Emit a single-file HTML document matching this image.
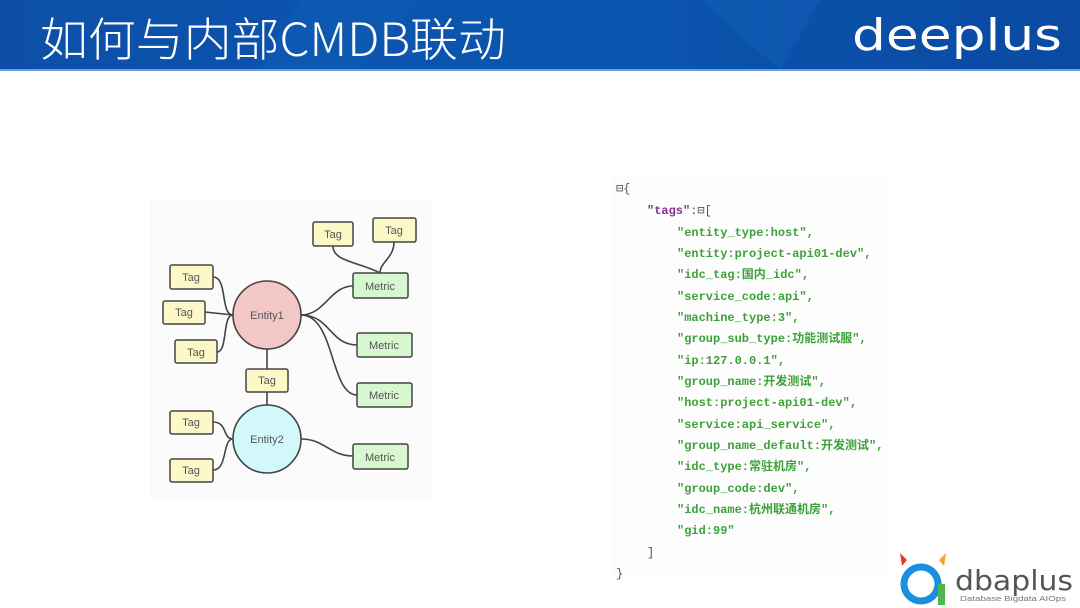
<!DOCTYPE html>
<html><head><meta charset="utf-8"><style>
html,body{margin:0;padding:0;background:#fff}
svg{display:block}
</style></head><body>
<svg width="1080" height="608" viewBox="0 0 1080 608" xmlns="http://www.w3.org/2000/svg">
<defs>
<linearGradient id="hb" x1="0" y1="0" x2="1" y2="0">
<stop offset="0" stop-color="#0d4fa8"/><stop offset="0.5" stop-color="#0b56b0"/><stop offset="1" stop-color="#0a4aa2"/>
</linearGradient>
</defs>
<rect x="0" y="0" width="1080" height="70" fill="url(#hb)"/>
<polygon points="300,0 420,0 360,70 260,70" fill="#1060b8" opacity="0.35"/>
<polygon points="700,0 820,0 780,70" fill="#1a66bd" opacity="0.3"/>
<rect x="0" y="69" width="1080" height="2" fill="#6f9fd8"/>
<text x="40" y="56" font-family="Noto Sans CJK SC, sans-serif" font-size="46" font-weight="300" fill="#fff" textLength="466" lengthAdjust="spacingAndGlyphs">如何与内部CMDB联动</text>
<text x="852" y="50" font-family="DejaVu Sans, sans-serif" font-size="44" fill="#fff" textLength="210" lengthAdjust="spacingAndGlyphs">deeplus</text>

<rect x="150" y="200" width="282" height="300" fill="#fbfbfb"/>
<g fill="none" stroke="#444" stroke-width="1.6">
<path d="M333 246 C333 262,360 262,380 273"/>
<path d="M394 242 C394 258,380 262,380 273"/>
<path d="M213 277 C228 277,220 315,233 315"/>
<path d="M205 312 L233 315"/>
<path d="M217 352 C228 352,222 315,233 315"/>
<path d="M301 315 C325 315,330 286,353 286"/>
<path d="M301 315 C330 315,330 345,357 345"/>
<path d="M301 315 C335 315,330 395,357 395"/>
<path d="M267 349 L267 369"/><path d="M267 392 L267 405"/>
<path d="M213 422 C228 422,222 439,233 439"/>
<path d="M213 470 C228 470,222 439,233 439"/>
<path d="M301 439 C325 439,330 456,353 456"/>
</g>
<circle cx="267" cy="315" r="34" fill="#f4c7c7" stroke="#444" stroke-width="1.6"/>
<circle cx="267" cy="439" r="34" fill="#d3f8fc" stroke="#444" stroke-width="1.6"/>
<g font-family="Liberation Sans, sans-serif" font-size="11" fill="#555" text-anchor="middle">
<text x="267" y="319">Entity1</text><text x="267" y="443">Entity2</text>
</g>
<g fill="#fdf8c8" stroke="#444" stroke-width="1.5">
<rect x="313" y="222" width="40" height="24" rx="2"/>
<rect x="373" y="218" width="43" height="24" rx="2"/>
<rect x="170" y="265" width="43" height="24" rx="2"/>
<rect x="163" y="301" width="42" height="23" rx="2"/>
<rect x="175" y="340" width="42" height="23" rx="2"/>
<rect x="246" y="369" width="42" height="23" rx="2"/>
<rect x="170" y="411" width="43" height="23" rx="2"/>
<rect x="170" y="459" width="43" height="23" rx="2"/>
</g>
<g fill="#d6f7cf" stroke="#444" stroke-width="1.5">
<rect x="353" y="273" width="55" height="25" rx="2"/>
<rect x="357" y="333" width="55" height="24" rx="2"/>
<rect x="357" y="383" width="55" height="24" rx="2"/>
<rect x="353" y="444" width="55" height="25" rx="2"/>
</g>
<g font-family="Liberation Sans, sans-serif" font-size="11" fill="#555" text-anchor="middle">
<text x="333" y="238">Tag</text><text x="394" y="234">Tag</text>
<text x="191" y="281">Tag</text><text x="184" y="316">Tag</text><text x="196" y="356">Tag</text>
<text x="267" y="384">Tag</text><text x="191" y="426">Tag</text><text x="191" y="474">Tag</text>
<text x="380" y="290">Metric</text><text x="384" y="349">Metric</text>
<text x="384" y="399">Metric</text><text x="380" y="461">Metric</text>
</g>

<rect x="612" y="176" width="276" height="402" fill="#fdfdfd"/>
<g font-family="Liberation Mono, Noto Sans CJK SC, monospace" font-size="12" font-weight="bold">
<text x="616" y="192" fill="#555" font-weight="normal">⊟{</text>
<text x="647" y="214"><tspan fill="#8a2c8f">"tags"</tspan><tspan fill="#555" font-weight="normal">:⊟[</tspan></text>
<g fill="#3da13a">
<text x="677" y="236">"entity_type:host",</text>
<text x="677" y="257">"entity:project-api01-dev",</text>
<text x="677" y="278">"idc_tag:国内_idc",</text>
<text x="677" y="300">"service_code:api",</text>
<text x="677" y="321">"machine_type:3",</text>
<text x="677" y="342">"group_sub_type:功能测试服",</text>
<text x="677" y="364">"ip:127.0.0.1",</text>
<text x="677" y="385">"group_name:开发测试",</text>
<text x="677" y="406">"host:project-api01-dev",</text>
<text x="677" y="428">"service:api_service",</text>
<text x="677" y="449">"group_name_default:开发测试",</text>
<text x="677" y="470">"idc_type:常驻机房",</text>
<text x="677" y="492">"group_code:dev",</text>
<text x="677" y="513">"idc_name:杭州联通机房",</text>
<text x="677" y="534">"gid:99"</text>
</g>
<text x="647" y="556" fill="#555" font-weight="normal">]</text>
<text x="616" y="577" fill="#555" font-weight="normal">}</text>
</g>

<g>
<polygon points="900,553 907,560 902,566" fill="#e53b2c"/>
<polygon points="946,553 939,560 944,566" fill="#f5a623"/>
<circle cx="921" cy="584" r="17" fill="none" stroke="#1a8fe0" stroke-width="7"/>
<path d="M938 584 L938 605 L945 605 L945 584 Z" fill="#4cb84a"/>
<text x="955" y="590" font-family="DejaVu Sans, sans-serif" font-size="28" fill="#555" textLength="118" lengthAdjust="spacingAndGlyphs">dbaplus</text>
<text x="960" y="601" font-family="Liberation Sans, sans-serif" font-size="7" fill="#777" textLength="106" lengthAdjust="spacingAndGlyphs">Database  Bigdata  AIOps</text>
</g>
</svg>
</body></html>
